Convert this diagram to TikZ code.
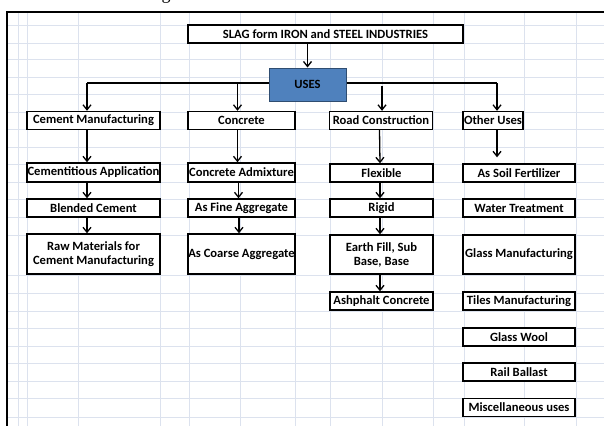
\documentclass[tikz,border=0pt]{standalone}
\usepackage{fontspec}
\setmainfont{Carlito}
\newfontfamily\capfont{Liberation Serif}
\usetikzlibrary{arrows.meta}
\definecolor{gridblue}{HTML}{DCE2EE}
\definecolor{usesblue}{HTML}{4F81BD}
\begin{document}
\begin{tikzpicture}[x=1pt,y=-1pt,
  box/.style={draw,line width=1.4pt,inner sep=0pt,minimum height=18pt,
    font=\fontsize{12.6}{14}\selectfont\bfseries,align=center},
  arr/.style={-{Straight Barb[length=5pt,width=8pt]},line width=1.3pt},
  gridline/.style={gridblue,line width=0.9pt}]
\useasboundingbox (0,0) rectangle (604,426);
\fill[white] (0,0) rectangle (604,426);
% sheet grid
\foreach \gx in {18,27,78,160,189,240,295,330,382,433,464,524,576}
  \draw[gridline] (\gx,12) -- (\gx,426);
\foreach \gy in {25,43,59,77,94,112,129,147,164,182,199,217,235,275,293,311,328,346,363,381,398,417}
  \draw[gridline] (7,\gy) -- (604,\gy);
\draw[line width=2.2pt] (604,12) -- (7,12) -- (7,426);
\node[font=\capfont\fontsize{18}{20}\selectfont,anchor=base,inner sep=0pt] (capg) at (166,-1) {g};
% top
\node[box,fill=white,minimum width=275pt] (slag) at (325.5,34) {SLAG form IRON and STEEL INDUSTRIES};
\node[box,fill=usesblue,draw=usesblue!60!black,line width=1pt,minimum width=77pt,minimum height=33pt] (uses) at (307.5,84.5) {USES};
% first row
\node[box,fill=white,minimum width=133pt] (cement) at (93.5,120.5) {Cement Manufacturing};
\node[box,fill=white,minimum width=107pt] (concrete) at (241.5,120.5) {Concrete};
\node[box,fill=white,minimum width=103pt] (road) at (381,120.5) {Road Construction};
\node[box,fill=white,minimum width=60pt] (other) at (493,120.5) {Other Uses};
% cement column
\node[box,fill=white,minimum width=133pt,minimum height=19pt] (cementitious) at (93.5,172.5) {Cementitious Application};
\node[box,fill=white,minimum width=133pt] (blended) at (93.5,208) {Blended Cement};
\node[box,fill=white,minimum width=133pt,minimum height=40pt] (raw) at (93.5,254) {Raw Materials for\\Cement Manufacturing};
% concrete column
\node[box,fill=white,minimum width=107pt,minimum height=19pt] (admixture) at (241.5,172.5) {Concrete Admixture};
\node[box,fill=white,minimum width=107pt] (fine) at (241.5,208) {As Fine Aggregate};
\node[box,fill=white,minimum width=107pt,minimum height=40pt] (coarse) at (241.5,254) {As Coarse Aggregate};
% road column
\node[box,fill=white,minimum width=103pt] (flexible) at (381.5,173) {Flexible};
\node[box,fill=white,minimum width=103pt] (rigid) at (381.5,208) {Rigid};
\node[box,fill=white,minimum width=103pt,minimum height=39pt] (earth) at (381.5,254.5) {Earth Fill, Sub\\Base, Base};
\node[box,fill=white,minimum width=103pt] (asphalt) at (381.5,301) {Ashphalt Concrete};
% other uses column
\node[box,fill=white,minimum width=112pt] (soil) at (519,173) {As Soil Fertilizer};
\node[box,fill=white,minimum width=112pt] (water) at (519,208) {Water Treatment};
\node[box,fill=white,minimum width=112pt,minimum height=39pt] (glassman) at (519,254.5) {Glass Manufacturing};
\node[box,fill=white,minimum width=112pt] (tiles) at (519,301) {Tiles Manufacturing};
\node[box,fill=white,minimum width=112pt] (wool) at (519,337) {Glass Wool};
\node[box,fill=white,minimum width=112pt] (rail) at (519,372) {Rail Ballast};
\node[box,fill=white,minimum width=112pt] (misc) at (519,407.5) {Miscellaneous uses};
% connectors
\draw[arr] (slag.south -| uses.north) -- (uses.north);
\coordinate (leftend) at (87,83);
\coordinate (rightend) at (497,83);
\coordinate (roadtop) at (382,86);
\draw[line width=1.3pt] (uses.west |- leftend) -- (leftend);
\draw[arr] (leftend) -- (leftend |- cement.north);
\draw[arr] (concrete.north |- leftend) ++(-4,0) coordinate (concdrop) -- (concdrop |- concrete.north);
\draw[line width=1.3pt] (uses.east |- rightend) -- (rightend);
\draw[arr] (rightend) -- (rightend |- other.north);
\draw[arr] (roadtop) -- (roadtop |- road.north);
\draw[arr] (leftend |- cement.south) -- (leftend |- cementitious.north);
\draw[arr] (leftend |- cementitious.south) -- (leftend |- blended.north);
\draw[arr] (leftend |- blended.south) -- (leftend |- raw.north);
\draw[arr] (concdrop |- concrete.south) -- (concdrop |- admixture.north);
\draw[arr] ([xshift=-3pt]admixture.south) -- ([xshift=-3pt]fine.north);
\draw[arr] ([xshift=-2.5pt]fine.south) -- ([xshift=-2.5pt]coarse.north);
\draw[arr] ([xshift=-1.5pt]road.south) -- ([xshift=-1.5pt]flexible.north);
\draw[arr] ([xshift=-1.5pt]flexible.south) -- ([xshift=-1.5pt]rigid.north);
\draw[arr] ([xshift=-1.5pt]rigid.south) -- ([xshift=-1.5pt]earth.north);
\draw[arr] ([xshift=-1.5pt]earth.south) -- ([xshift=-1.5pt]asphalt.north);
\draw[arr,shorten >=6pt] (rightend |- other.south) -- (rightend |- soil.north);
\end{tikzpicture}
\end{document}
